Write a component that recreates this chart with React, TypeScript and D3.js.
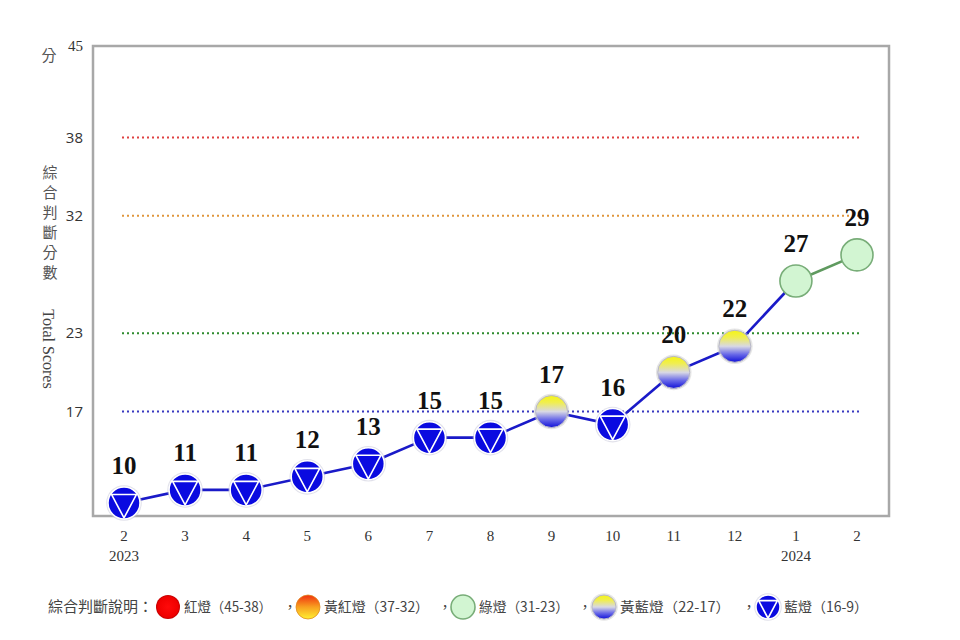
import React from "react";
import * as d3 from "d3";

const months = ["2", "3", "4", "5", "6", "7", "8", "9", "10", "11", "12", "1", "2"];
const years = ["2023", "", "", "", "", "", "", "", "", "", "", "2024", ""];
const scores = [10, 11, 11, 12, 13, 15, 15, 17, 16, 20, 22, 27, 29];
const yTicks = [45, 38, 32, 23, 17];
const refLines = [38, 32, 23, 17];
const refColors = ["#e04040", "#e0963c", "#2e8b2e", "#3838c0"];
const legendItems = [
  { kind: "red", label: "紅燈（45-38）" },
  { kind: "orange", label: "黃紅燈（37-32）" },
  { kind: "green", label: "綠燈（31-23）" },
  { kind: "yb", label: "黃藍燈（22-17）" },
  { kind: "blue", label: "藍燈（16-9）" },
];

function lampKind(v: number) {
  if (v >= 38) return "red";
  if (v >= 32) return "orange";
  if (v >= 23) return "green";
  if (v >= 17) return "yb";
  return "blue";
}

function Lamp({ kind, cx, cy, r }: { kind: string; cx: number; cy: number; r: number }) {
  const s = r / 16;
  if (kind === "blue") {
    return (
      <g transform={`translate(${cx},${cy})`}>
        <circle r={r + 1.8} fill="#c8c8d8" opacity={0.55} />
        <circle r={r} fill="#0a0ae0" stroke="#ffffff" strokeWidth={1.5} />
        <path
          d={`M${-12.5 * s},${-8.5 * s} L${12.5 * s},${-8.5 * s} L0,${15 * s} Z`}
          fill="none"
          stroke="#ffffff"
          strokeWidth={1.6}
          strokeLinejoin="round"
        />
      </g>
    );
  }
  if (kind === "yb") {
    return (
      <g transform={`translate(${cx},${cy})`}>
        <circle r={r + 1.8} fill="#d0d0d0" opacity={0.55} />
        <circle r={r} fill="url(#gradYB)" stroke="#b8b8c8" strokeWidth={1} />
      </g>
    );
  }
  if (kind === "green") {
    return (
      <g transform={`translate(${cx},${cy})`}>
        <circle r={r} fill="#d2f5d2" stroke="#78ad78" strokeWidth={1.6} />
      </g>
    );
  }
  if (kind === "orange") {
    return (
      <g transform={`translate(${cx},${cy})`}>
        <circle r={r} fill="url(#gradOR)" stroke="#e08a20" strokeWidth={0.8} />
      </g>
    );
  }
  return (
    <g transform={`translate(${cx},${cy})`}>
      <circle r={r} fill="url(#gradRED)" />
    </g>
  );
}

export default function App() {
  const x = d3.scaleLinear().domain([0, 12]).range([124, 857]);
  const y = d3.scaleLinear().domain([9, 45]).range([516, 46]);
  const pts = scores.map((v, i) => ({ i, v }));
  const line = d3
    .line<{ i: number; v: number }>()
    .x((d) => x(d.i))
    .y((d) => y(d.v));

  const segs = pts.slice(1).map((p, k) => {
    const a = pts[k];
    const green = lampKind(a.v) === "green" && lampKind(p.v) === "green";
    return { k, d: line([a, p])!, color: green ? "#5f9a5f" : "#1a1ac8" };
  });

  const legendX = [168, 308, 463, 604, 768];
  const legendW = [88, 105, 90, 110, 84];
  const commaX = [283, 438, 578, 742];

  return (
    <svg
      width={960}
      height={640}
      style={{ position: "absolute", left: 0, top: 0, background: "#fff" }}
    >
      <defs>
        <linearGradient id="gradYB" x1="0" y1="0" x2="0" y2="1">
          <stop offset="0" stopColor="#f5f514" />
          <stop offset="0.22" stopColor="#f0ee50" />
          <stop offset="0.5" stopColor="#d8d8e4" />
          <stop offset="0.75" stopColor="#6a6ae8" />
          <stop offset="1" stopColor="#1010d8" />
        </linearGradient>
        <linearGradient id="gradOR" x1="0" y1="0" x2="0" y2="1">
          <stop offset="0" stopColor="#f03010" />
          <stop offset="0.5" stopColor="#f8a020" />
          <stop offset="1" stopColor="#fff030" />
        </linearGradient>
        <radialGradient id="gradRED" cx="0.5" cy="0.5" r="0.5">
          <stop offset="0" stopColor="#ff0a0a" />
          <stop offset="0.85" stopColor="#f00000" />
          <stop offset="1" stopColor="#c00000" />
        </radialGradient>
      </defs>

      {/* plot frame */}
      <rect x={93} y={46} width={796} height={470} fill="#fff" stroke="#a8a8a8" strokeWidth={2.5} />

      {/* reference dotted lines */}
      {refLines.map((v, i) => (
        <line
          key={v}
          x1={122}
          x2={860}
          y1={y(v)}
          y2={y(v)}
          stroke={refColors[i]}
          strokeWidth={2}
          strokeDasharray="2,3"
        />
      ))}

      {/* y tick labels */}
      {yTicks.map((v) => (
        <text
          key={v}
          x={83}
          y={y(v)}
          dy="0.35em"
          textAnchor="end"
          fontSize={15}
          fill="#333"
          fontFamily={v === 45 ? "'Liberation Serif', serif" : "'Open Sans', 'Noto Sans', sans-serif"}
        >
          {v}
        </text>
      ))}

      {/* y axis title */}
      <text x={49} y={61} textAnchor="middle" fontSize={15} fill="#555" fontFamily="'Noto Sans CJK TC', sans-serif">
        分
      </text>
      {"綜合判斷分數".split("").map((c, i) => (
        <text
          key={i}
          x={50}
          y={178 + i * 20}
          textAnchor="middle"
          fontSize={15}
          fill="#555"
          fontFamily="'Noto Sans CJK TC', sans-serif"
        >
          {c}
        </text>
      ))}
      <text
        transform="translate(43,349) rotate(90)"
        textAnchor="middle"
        fontSize={16}
        fill="#444"
        fontFamily="'Liberation Serif', serif"
      >
        Total Scores
      </text>

      {/* series line */}
      {segs.map((s) => (
        <path key={s.k} d={s.d} fill="none" stroke={s.color} strokeWidth={2.6} />
      ))}

      {/* markers */}
      {pts.map((p) => (
        <Lamp key={p.i} kind={lampKind(p.v)} cx={x(p.i)} cy={y(p.v)} r={16} />
      ))}

      {/* value labels */}
      {pts.map((p) => (
        <text
          key={p.i}
          x={x(p.i)}
          y={y(p.v) - 29}
          textAnchor="middle"
          fontSize={25}
          fontWeight="bold"
          fill="#111"
          fontFamily="'Liberation Serif', serif"
        >
          {p.v}
        </text>
      ))}

      {/* x labels */}
      {months.map((m, i) => (
        <text
          key={i}
          x={x(i)}
          y={541}
          textAnchor="middle"
          fontSize={15}
          fill="#333"
          fontFamily="'Liberation Serif', serif"
        >
          {m}
        </text>
      ))}
      {years.map((yr, i) =>
        yr ? (
          <text
            key={i}
            x={x(i)}
            y={561}
            textAnchor="middle"
            fontSize={15}
            fill="#333"
            fontFamily="'Liberation Serif', serif"
          >
            {yr}
          </text>
        ) : null
      )}

      {/* legend */}
      <text x={48} y={612} fontSize={15} fill="#444" fontFamily="'Noto Sans CJK TC', sans-serif">
        綜合判斷說明：
      </text>
      {legendItems.map((it, i) => (
        <g key={it.kind}>
          <Lamp kind={it.kind} cx={legendX[i]} cy={607} r={12} />
          <text
            x={legendX[i] + 16}
            y={612}
            fontSize={14}
            fill="#444"
            textLength={legendW[i]}
            lengthAdjust="spacingAndGlyphs"
            fontFamily="'Noto Sans CJK TC', sans-serif"
          >
            {it.label}
          </text>
        </g>
      ))}
      {commaX.map((cx, i) => (
        <text key={i} x={cx} y={612} fontSize={14} fill="#444" fontFamily="'Noto Sans CJK TC', sans-serif">
          ，
        </text>
      ))}
    </svg>
  );
}
